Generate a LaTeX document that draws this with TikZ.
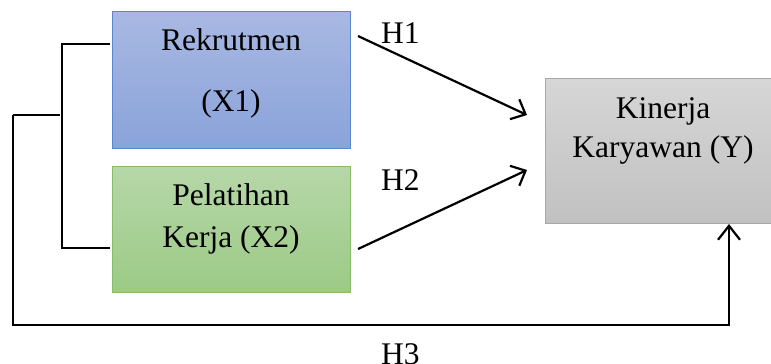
\documentclass[tikz,border=0pt]{standalone}
\usepackage{fontspec}
\setmainfont{Liberation Serif}
\usetikzlibrary{arrows.meta}
\definecolor{blueT}{HTML}{A8B8E2}
\definecolor{blueBot}{HTML}{8AA3DA}
\definecolor{blueB}{HTML}{5A86CF}
\definecolor{greenT}{HTML}{B6D7A8}
\definecolor{greenBot}{HTML}{9CCA86}
\definecolor{greenB}{HTML}{86BD68}
\definecolor{grayT}{HTML}{D6D6D6}
\definecolor{grayBot}{HTML}{C1C1C1}
\definecolor{grayB}{HTML}{A8A8A8}
\begin{document}
\begin{tikzpicture}[x=1pt,y=-1pt,
  lbl/.style={font=\fontsize{31.5}{40}\selectfont, anchor=base, inner sep=0pt},
  boxstyle/.style={draw, line width=1.2pt, anchor=north west, inner sep=0pt},
  arr/.style={line width=2.2pt, -{Straight Barb[length=12pt,width=22pt,line width=2.2pt]}},
  thinline/.style={line width=1.3pt}]
\useasboundingbox (0,0) rectangle (771,364);
\begin{scope}
\clip (0,0) rectangle (771,364);
\node[boxstyle, draw=blueB, top color=blueT, bottom color=blueBot, minimum width=238pt, minimum height=137pt] (x1) at (112,11) {};
\node[boxstyle, draw=greenB, top color=greenT, bottom color=greenBot, minimum width=238pt, minimum height=126pt] (x2) at (112,166) {};
\node[boxstyle, draw=grayB, top color=grayT, bottom color=grayBot, minimum width=236pt, minimum height=145pt] (y) at (545,78) {};

\node[lbl] (x1a) at (231,50) {Rekrutmen};
\node[lbl] (x1b) at (231,111) {(X1)};
\node[lbl] (x2a) at (231,205) {Pelatihan};
\node[lbl] (x2b) at (231,247) {Kerja (X2)};
\node[lbl] (ya) at (663,118) {Kinerja};
\node[lbl] (yb) at (663,157) {Karyawan (Y)};
\node[lbl, anchor=base west] (h1) at (381,43) {H1};
\node[lbl, anchor=base west] (h2) at (381,190) {H2};
\node[lbl, anchor=base west] (h3) at (381,364) {H3};

\coordinate (h1s) at (358,36);
\coordinate (h1e) at (527,115);
\coordinate (h2s) at (358,249);
\coordinate (h2e) at (527,170);
\draw[arr] (h1s) -- (h1e);
\draw[arr] (h2s) -- (h2e);

\coordinate (bt) at (110,44);
\coordinate (bb) at (110,248);
\draw[thinline] (bt) -- (62,44) -- (62,248) -- (bb);
\coordinate (bm) at (60,115);
\coordinate (h3s) at (13,115);
\coordinate (h3e) at (729,224);
\draw[thinline] (bm) -- (h3s);
\draw[line width=2.2pt, -{Straight Barb[length=14pt,width=22pt,line width=2.2pt]}] (h3s) -- (13,325) -- (729,325) -- (h3e);
\end{scope}
\end{tikzpicture}
\end{document}
